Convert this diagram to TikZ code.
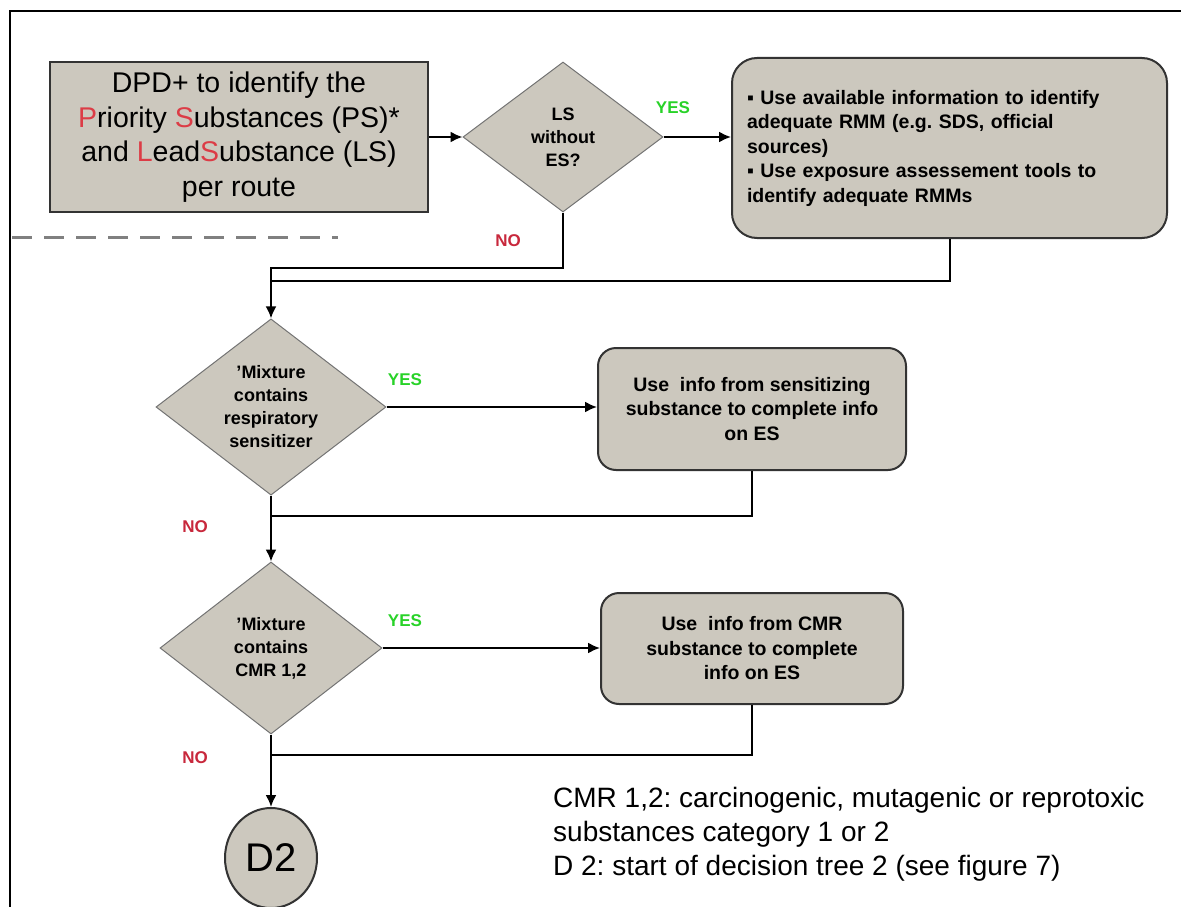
\documentclass[tikz,border=0pt]{standalone}
\usepackage{fontspec}
\setmainfont{Liberation Sans}
\usetikzlibrary{arrows.meta,shapes.geometric}
\definecolor{boxgrey}{RGB}{204,200,190}
\definecolor{yesgreen}{RGB}{40,210,40}
\definecolor{nored}{RGB}{200,40,60}
\definecolor{letterred}{RGB}{220,60,70}
\frenchspacing

\begin{document}
\begin{tikzpicture}[
    x=1pt, y=-1pt,
    every node/.style={inner sep=0pt},
    flow/.style={line width=2pt},
    arrow/.style={flow, -{Latex[length=12pt,width=11pt]}},
    startbox/.style={draw=black!80, line width=2pt, fill=boxgrey, align=center,
      font=\fontsize{28.5}{34.5}\selectfont},
    question/.style={diamond, draw=black!55, line width=1pt, fill=boxgrey, align=center,
      font=\bfseries\fontsize{18}{23}\selectfont},
    action/.style={draw=black!80, line width=2pt, fill=boxgrey, rounded corners=18pt,
      font=\bfseries\fontsize{19.5}{24.5}\selectfont},
    yes/.style={text=yesgreen, font=\bfseries\fontsize{17}{17}\selectfont},
    no/.style={text=nored, font=\bfseries\fontsize{17}{17}\selectfont}
  ]
    \useasboundingbox (0,0) rectangle (1181,907);

    % frame
    \draw [line width=1.5pt] (10,930) -- (10,11) -- (1200,11);
    \draw [gray, line width=3pt, dash pattern=on 20pt off 12pt] (12,237) -- (338,237);

    % first row
    \node [startbox, minimum width=378, minimum height=150] (dpd) at (239,137)
      {DPD+ to identify the\\
       \textcolor{letterred}{P}riority \textcolor{letterred}{S}ubstances (PS)*\\
       and \textcolor{letterred}{L}ead\textcolor{letterred}{S}ubstance (LS)\\
       per route};
    \node [question, minimum width=200, minimum height=150] (lsq) at (563,137)
      {LS\\ without\\ ES?};
    \node [action, rounded corners=25pt, minimum width=435, minimum height=180,
      text width=405, align=left] (rmm) at (949.5,148)
      {▪ Use available information to identify\\
       adequate RMM (e.g. SDS, official\\
       sources)\\
       ▪ Use exposure assessement tools to\\
       identify adequate RMMs};

    % sensitizer
    \node [question, minimum width=230, minimum height=170] (sensq) at (271,407)
      {'Mixture\\ contains\\ respiratory\\ sensitizer};
    \node [action, minimum width=308, minimum height=122, align=center] (sens) at (752,409)
      {Use\ \ info from sensitizing\\ substance to complete info\\ on ES};

    % CMR
    \node [question, minimum width=222, minimum height=172] (cmrq) at (271,648)
      {'Mixture\\ contains\\ CMR 1,2};
    \node [action, minimum width=302, minimum height=111, align=center] (cmr) at (752,648.5)
      {Use\ \ info from CMR\\ substance to complete\\ info on ES};

    % D2
    \node [ellipse, draw=black!80, line width=2pt, fill=boxgrey, minimum width=92,
      minimum height=100, font=\fontsize{40}{40}\selectfont] (dtwo) at (271,858) {D2};

    % labels
    \node [yes] (yesone) at (673,108) {YES};
    \node [no] (noone) at (508,241) {NO};
    \node [yes] (yestwo) at (405,380) {YES};
    \node [no] (notwo) at (195,527) {NO};
    \node [yes] (yesthree) at (405,621) {YES};
    \node [no] (nothree) at (195,758) {NO};

    \node [anchor=west, align=left, font=\fontsize{28}{34}\selectfont] (note) at (553,834)
      {CMR 1,2: carcinogenic, mutagenic or reprotoxic\\
       substances category 1 or 2\\
       D 2: start of decision tree 2 (see figure 7)};

    % connectors
    \coordinate (bendone) at (271,268);
    \coordinate (joinone) at (271,281);
    \coordinate (jointwo) at (271,516);
    \coordinate (jointhree) at (271,755);

    \draw [arrow] (dpd.east) -- (lsq.west);
    \draw [arrow] (lsq.east) -- (rmm.west |- lsq.east);
    \draw [arrow] (lsq.south) |- (bendone) -- (sensq.north);
    \draw [flow] (rmm.south) |- (joinone);

    \draw [arrow] (sensq.east) -- (sens.west |- sensq.east);
    \draw [arrow] (sensq.south) -- (cmrq.north);
    \draw [flow] (sens.south) |- (jointwo);

    \draw [arrow] (cmrq.east) -- (cmr.west |- cmrq.east);
    \draw [arrow] (cmrq.south) -- (dtwo.north);
    \draw [flow] (cmr.south) |- (jointhree);
  \end{tikzpicture}
\end{document}
